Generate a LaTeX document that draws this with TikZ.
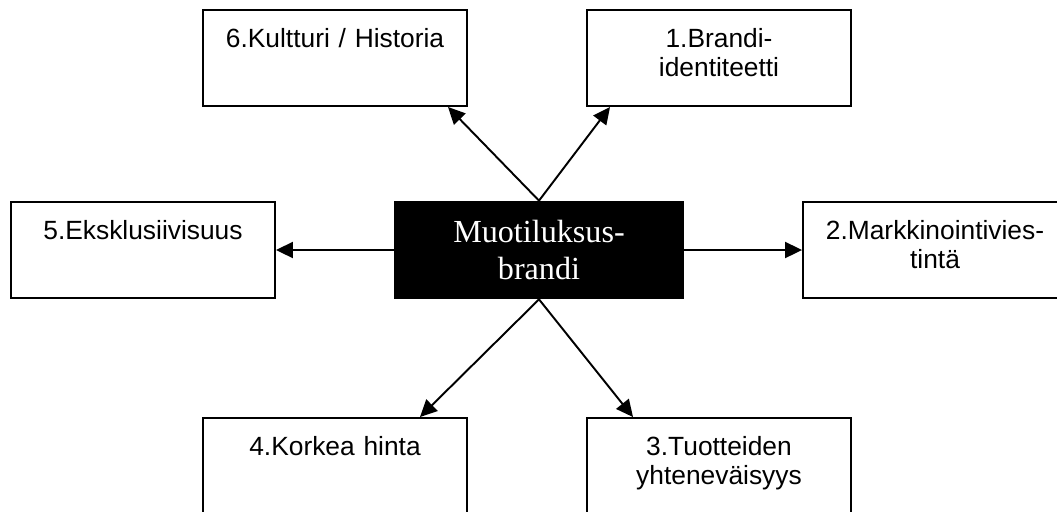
\documentclass[tikz,border=0pt]{standalone}
\usepackage{fontspec}
\setmainfont{Liberation Sans}
\newfontfamily\brandfont{Liberation Serif}
\usetikzlibrary{arrows.meta}

\begin{document}
\begin{tikzpicture}[x=0.02cm, y=-0.02cm,
  factor/.style={draw, rectangle, line width=1.1pt, inner sep=0pt, text width=5.28cm, align=center,
    text height=0.74cm, text depth=1.18cm, font=\fontsize{15}{16.8}\selectfont},
  core/.style={rectangle, fill=black, text=white, inner sep=0pt, minimum width=5.8cm, minimum height=1.96cm,
    align=center, font=\brandfont\fontsize{18.3}{21.5}\selectfont},
  link/.style={-{Triangle[length=0.34cm, width=0.32cm]}, line width=1.1pt}]
\useasboundingbox (0,0) rectangle (1057,511);
\clip (0,0) rectangle (1057,511);
% Centre box and the six factors round it
\node[core] (brand) at (539,250) {Muotiluksus-\\brandi};
\node[factor] (identity) at (719,58) {1.Brandi-\\identiteetti};
\node[factor] (marketing) at (935,250) {2.Markkinointivies-\\tintä};
\node[factor] (products) at (719,466) {3.Tuotteiden\\yhteneväisyys};
\node[factor] (price) at (335,466) {4.Korkea hinta};
\node[factor] (exclusive) at (143,250) {5.Eksklusiivisuus};
\node[factor] (culture) at (335,58) {6.Kultturi / Historia};

% Draw arrows
\draw[link] (brand.north) -- ([xshift=-2.18cm]identity.south);
\draw[link] (brand.east) -- (marketing.west);
\draw[link] (brand.south) -- ([xshift=-1.72cm]products.north);
\draw[link] (brand.south) -- ([xshift=1.7cm]price.north);
\draw[link] (brand.west) -- (exclusive.east);
\draw[link] (brand.north) -- ([xshift=2.26cm]culture.south);
\end{tikzpicture}
\end{document}
